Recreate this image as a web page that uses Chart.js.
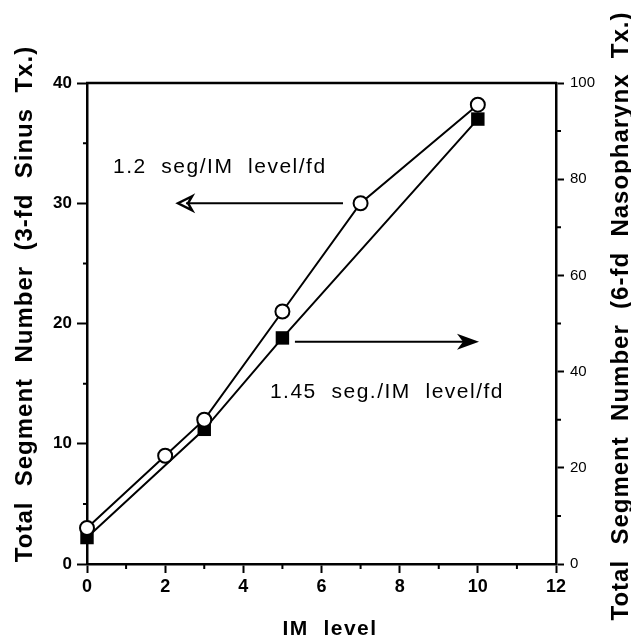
<!DOCTYPE html>
<html>
<head>
<meta charset="utf-8">
<script src="https://cdn.jsdelivr.net/npm/chart.js@4/dist/chart.umd.min.js"></script>
<style>
  html, body { margin: 0; padding: 0; background: #fff; }
  #wrap { width: 631px; height: 640px; position: relative; }
</style>
</head>
<body>
<div id="wrap"><canvas id="chart"></canvas></div>
<script>
// IM level vs total segment number
const sinusLevels = [0, 2, 3, 5, 7, 10];
const sinusSegments = [3, 9, 12, 21, 30, 38.2];     // left axis, 3-fd sinus
const nasoLevels = [0, 3, 5, 10];
const nasoSegments = [5.5, 28, 47, 92.5];           // right axis, 6-fd nasopharynx

const xRange = [0, 12];
const leftRange = [0, 40];
const rightRange = [0, 100];

const leftTitle = 'Total  Segment  Number  (3-fd  Sinus  Tx.)';
const rightTitle = 'Total  Segment  Number  (6-fd  Nasopharynx  Tx.)';
const xTitle = 'IM  level';
const sinusNote = '1.2  seg/IM  level/fd';
const nasoNote = '1.45  seg./IM  level/fd';

const FONT = '"Liberation Sans", Arial, Helvetica, sans-serif';

const toPoints = (xs, ys) => xs.map((x, i) => ({ x, y: ys[i] }));

function minorTicks(ctx, scale, values, len, dir) {
    ctx.save();
    ctx.strokeStyle = '#000';
    ctx.lineWidth = 2;
    ctx.beginPath();
    values.forEach((v) => {
        const p = scale.getPixelForValue(v);
        if (dir === 'down') {
            ctx.moveTo(p, scale.top);
            ctx.lineTo(p, scale.top + len);
        } else if (dir === 'left') {
            ctx.moveTo(scale.right, p);
            ctx.lineTo(scale.right - len, p);
        } else {
            ctx.moveTo(scale.left, p);
            ctx.lineTo(scale.left + len, p);
        }
    });
    ctx.stroke();
    ctx.restore();
}

function rotatedText(ctx, text, x, y) {
    ctx.save();
    ctx.translate(x, y);
    ctx.rotate(-Math.PI / 2);
    ctx.fillText(text, 0, 0);
    ctx.restore();
}

const decorations = {
    id: 'decorations',
    afterDraw(chart) {
        const { ctx, chartArea: a, scales } = chart;
        const x = scales.x, y = scales.y, y2 = scales.y2;

        // top frame line
        ctx.save();
        ctx.strokeStyle = '#000';
        ctx.lineWidth = 2.5;
        ctx.beginPath();
        ctx.moveTo(a.left - 1, a.top);
        ctx.lineTo(a.right + 1, a.top);
        ctx.stroke();
        ctx.restore();

        minorTicks(ctx, x, [1, 3, 5, 7, 9, 11], 5, 'down');
        minorTicks(ctx, y, [5, 15, 25, 35], 4, 'left');
        minorTicks(ctx, y2, [10, 30, 50, 70, 90], 5, 'right');

        // axis titles
        ctx.save();
        ctx.fillStyle = '#000';
        ctx.font = 'bold 24px ' + FONT;
        ctx.letterSpacing = '1px';
        ctx.textAlign = 'center';
        ctx.textBaseline = 'alphabetic';
        rotatedText(ctx, leftTitle, 32, 304);
        rotatedText(ctx, rightTitle, 628, 316);
        ctx.font = 'bold 21px ' + FONT;
        ctx.letterSpacing = '1.5px';
        ctx.fillText(xTitle, 330, 635);
        ctx.restore();

        // slope notes and arrows
        ctx.save();
        ctx.fillStyle = '#000';
        ctx.strokeStyle = '#000';
        ctx.font = '21px ' + FONT;
        ctx.letterSpacing = '1.5px';
        ctx.textBaseline = 'alphabetic';
        ctx.textAlign = 'left';
        ctx.fillText(sinusNote, x.getPixelForValue(0.665), y.getPixelForValue(32.5));
        ctx.fillText(nasoNote, x.getPixelForValue(4.68), y2.getPixelForValue(34.5));
        ctx.letterSpacing = '0px';

        // left-pointing open arrow toward the left axis
        const ly = y.getPixelForValue(30);
        const lx0 = x.getPixelForValue(6.55), lx1 = x.getPixelForValue(2.33);
        ctx.lineWidth = 2;
        ctx.beginPath();
        ctx.moveTo(lx0, ly);
        ctx.lineTo(lx1 + 8, ly);
        ctx.stroke();
        ctx.lineWidth = 2.5;
        ctx.beginPath();
        ctx.moveTo(lx1 + 14, ly - 7);
        ctx.lineTo(lx1, ly);
        ctx.lineTo(lx1 + 14, ly + 7);
        ctx.lineTo(lx1 + 10, ly);
        ctx.closePath();
        ctx.stroke();

        // right-pointing filled arrow toward the right axis
        const ry = y2.getPixelForValue(46.2);
        const rx0 = x.getPixelForValue(5.32), rx1 = x.getPixelForValue(10.03);
        ctx.lineWidth = 2;
        ctx.beginPath();
        ctx.moveTo(rx0, ry);
        ctx.lineTo(rx1 - 10, ry);
        ctx.stroke();
        ctx.beginPath();
        ctx.moveTo(rx1, ry);
        ctx.lineTo(rx1 - 22, ry - 8);
        ctx.lineTo(rx1 - 16, ry);
        ctx.lineTo(rx1 - 22, ry + 8);
        ctx.closePath();
        ctx.fill();
        ctx.restore();
    },
};

const axisGrid = (len) => ({
    drawOnChartArea: false,
    drawTicks: true,
    tickLength: len,
    tickColor: '#000',
    tickWidth: 2,
});
const axisBorder = { display: true, color: '#000', width: 2.5 };

new Chart(document.getElementById('chart'), {
    type: 'line',
    data: {
        datasets: [
            {
                label: 'Sinus',
                data: toPoints(sinusLevels, sinusSegments),
                yAxisID: 'y',
                clip: false,
                borderColor: '#000',
                borderWidth: 2,
                pointStyle: 'circle',
                pointRadius: 7,
                pointBorderWidth: 2,
                pointBackgroundColor: '#fff',
                pointBorderColor: '#000',
            },
            {
                label: 'Nasopharynx',
                data: toPoints(nasoLevels, nasoSegments),
                yAxisID: 'y2',
                clip: false,
                borderColor: '#000',
                borderWidth: 2,
                pointStyle: 'rect',
                pointRadius: 9.5,
                pointBorderWidth: 0,
                pointBackgroundColor: '#000',
                pointBorderColor: '#000',
            },
        ],
    },
    options: {
        responsive: true,
        maintainAspectRatio: false,
        animation: false,
        layout: { padding: { top: 83, left: 0, right: 0, bottom: 0 } },
        plugins: { legend: { display: false }, tooltip: { enabled: false } },
        scales: {
            x: {
                type: 'linear',
                min: xRange[0],
                max: xRange[1],
                grid: axisGrid(9),
                border: axisBorder,
                ticks: {
                    stepSize: 2,
                    color: '#000',
                    padding: 3,
                    font: { family: FONT, size: 18, weight: 'bold' },
                },
                afterFit: (s) => { s.height = 76; },
            },
            y: {
                type: 'linear',
                position: 'left',
                min: leftRange[0],
                max: leftRange[1],
                grid: axisGrid(10),
                border: axisBorder,
                ticks: {
                    stepSize: 10,
                    color: '#000',
                    padding: 5,
                    font: { family: FONT, size: 17, weight: 'bold' },
                },
                afterFit: (s) => { s.width = 87; },
            },
            y2: {
                type: 'linear',
                position: 'right',
                min: rightRange[0],
                max: rightRange[1],
                grid: axisGrid(8),
                border: axisBorder,
                ticks: {
                    stepSize: 20,
                    color: '#000',
                    padding: 6,
                    font: { family: FONT, size: 15 },
                },
                afterFit: (s) => { s.width = 75; },
            },
        },
    },
    plugins: [decorations],
});
</script>
</body>
</html>
